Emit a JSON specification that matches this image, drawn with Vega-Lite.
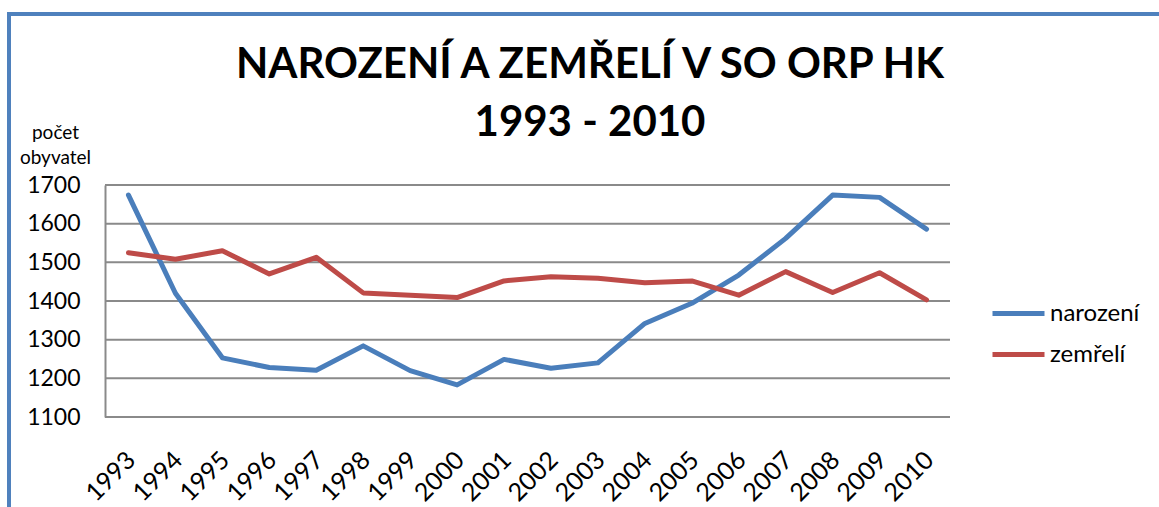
{
  "$schema": "https://vega.github.io/schema/vega-lite/v6.json",
  "width": 1152,
  "height": 495,
  "autosize": {"type": "none"},
  "padding": {"left": 9, "top": 14, "right": -2, "bottom": -2},
  "background": "white",
  "config": {
    "view": {"stroke": "#4F81BD", "strokeWidth": 4},
    "font": "Lato",
    "axis": {"labelColor": "#000000", "titleColor": "#000000"},
    "legend": {"labelColor": "#000000"}
  },
  "title": {
    "text": ["NAROZENÍ A ZEMŘELÍ V SO ORP HK", "1993 - 2010"],
    "fontSize": 42,
    "fontWeight": "bold",
    "font": "Lato",
    "color": "#000000",
    "anchor": "middle",
    "frame": "group",
    "baseline": "alphabetic",
    "lineHeight": 58,
    "offset": -164,
    "dx": 5
  },
  "datasets": {
    "grid": [
      {"v": 1100}, {"v": 1200}, {"v": 1300}, {"v": 1400}, {"v": 1500}, {"v": 1600}, {"v": 1700}
    ],
    "series": [
      {"rok": "1993", "rada": "narození", "pocet": 1674},
      {"rok": "1994", "rada": "narození", "pocet": 1420},
      {"rok": "1995", "rada": "narození", "pocet": 1253},
      {"rok": "1996", "rada": "narození", "pocet": 1228},
      {"rok": "1997", "rada": "narození", "pocet": 1221},
      {"rok": "1998", "rada": "narození", "pocet": 1284},
      {"rok": "1999", "rada": "narození", "pocet": 1220},
      {"rok": "2000", "rada": "narození", "pocet": 1183},
      {"rok": "2001", "rada": "narození", "pocet": 1249},
      {"rok": "2002", "rada": "narození", "pocet": 1226},
      {"rok": "2003", "rada": "narození", "pocet": 1240},
      {"rok": "2004", "rada": "narození", "pocet": 1342},
      {"rok": "2005", "rada": "narození", "pocet": 1394},
      {"rok": "2006", "rada": "narození", "pocet": 1467},
      {"rok": "2007", "rada": "narození", "pocet": 1562},
      {"rok": "2008", "rada": "narození", "pocet": 1674},
      {"rok": "2009", "rada": "narození", "pocet": 1668},
      {"rok": "2010", "rada": "narození", "pocet": 1586},
      {"rok": "1993", "rada": "zemřelí", "pocet": 1525},
      {"rok": "1994", "rada": "zemřelí", "pocet": 1508},
      {"rok": "1995", "rada": "zemřelí", "pocet": 1530},
      {"rok": "1996", "rada": "zemřelí", "pocet": 1470},
      {"rok": "1997", "rada": "zemřelí", "pocet": 1513},
      {"rok": "1998", "rada": "zemřelí", "pocet": 1421},
      {"rok": "1999", "rada": "zemřelí", "pocet": 1415},
      {"rok": "2000", "rada": "zemřelí", "pocet": 1409},
      {"rok": "2001", "rada": "zemřelí", "pocet": 1452},
      {"rok": "2002", "rada": "zemřelí", "pocet": 1463},
      {"rok": "2003", "rada": "zemřelí", "pocet": 1459},
      {"rok": "2004", "rada": "zemřelí", "pocet": 1447},
      {"rok": "2005", "rada": "zemřelí", "pocet": 1452},
      {"rok": "2006", "rada": "zemřelí", "pocet": 1415},
      {"rok": "2007", "rada": "zemřelí", "pocet": 1476},
      {"rok": "2008", "rada": "zemřelí", "pocet": 1422},
      {"rok": "2009", "rada": "zemřelí", "pocet": 1473},
      {"rok": "2010", "rada": "zemřelí", "pocet": 1403}
    ]
  },
  "layer": [
    {
      "data": {"name": "grid"},
      "mark": {"type": "rule", "color": "#8A8A8A", "strokeWidth": 2},
      "encoding": {
        "y": {
          "field": "v",
          "type": "quantitative",
          "scale": {"domain": [1100, 1700], "range": [403, 171], "zero": false, "nice": false}
        },
        "x": {
          "datum": 0,
          "type": "quantitative",
          "scale": {"domain": [0, 1], "range": [96, 941]},
          "axis": null
        },
        "x2": {"datum": 1}
      }
    },
    {
      "data": {"name": "series"},
      "mark": {"type": "line", "strokeWidth": 5, "strokeCap": "round", "strokeJoin": "round"},
      "encoding": {
        "x": {
          "field": "rok",
          "type": "ordinal",
          "scale": {"type": "point", "range": [96, 941], "padding": 0.5},
          "axis": {
            "orient": "bottom",
            "offset": -92,
            "domain": false,
            "ticks": false,
            "grid": false,
            "labelAngle": -45,
            "labelFontSize": 25,
            "labelPadding": 30,
            "labelOffset": -6,
            "title": null
          }
        },
        "y": {
          "field": "pocet",
          "type": "quantitative",
          "axis": {
            "orient": "left",
            "offset": -96,
            "values": [1100, 1200, 1300, 1400, 1500, 1600, 1700],
            "format": "d",
            "domain": true,
            "domainColor": "#8A8A8A",
            "domainWidth": 2,
            "ticks": false,
            "grid": false,
            "labelFontSize": 23,
            "labelPadding": 25,
            "title": ["počet", "obyvatel"],
            "titleAngle": 0,
            "titleAlign": "center",
            "titleBaseline": "alphabetic",
            "titleX": -50,
            "titleY": 124,
            "titleFontSize": 19,
            "titleFontWeight": "normal",
            "titleLineHeight": 25
          }
        },
        "color": {
          "field": "rada",
          "type": "nominal",
          "scale": {"domain": ["narození", "zemřelí"], "range": ["#4A7EBB", "#BE4B48"]},
          "legend": {
            "orient": "none",
            "legendX": 981,
            "legendY": 271,
            "title": null,
            "padding": 0,
            "symbolType": "stroke",
            "symbolSize": 2704,
            "symbolStrokeWidth": 5,
            "labelFontSize": 24,
            "labelOffset": 3,
            "rowPadding": -6
          }
        }
      }
    }
  ],
  "resolve": {"scale": {"x": "independent"}}
}
